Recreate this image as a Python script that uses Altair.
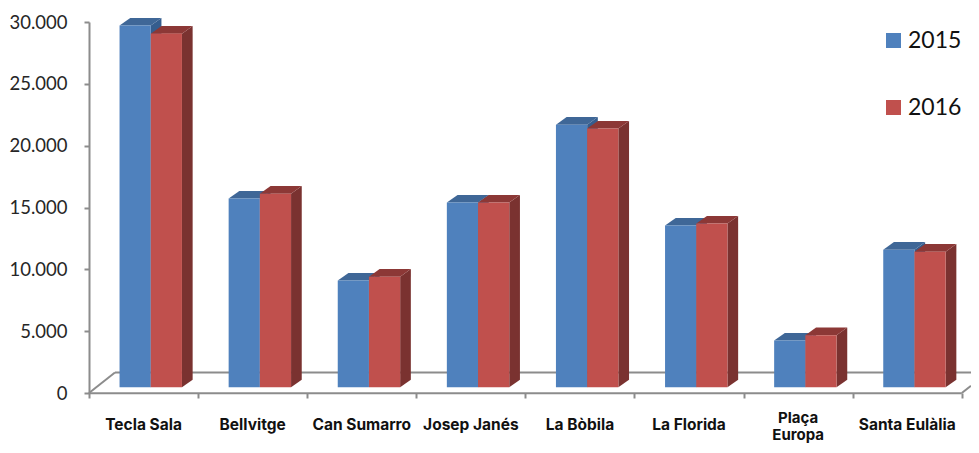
import altair as alt
import pandas as pd

categories = ["Tecla Sala", "Bellvitge", "Can Sumarro", "Josep Janés", "La Bòbila", "La Florida", "Plaça\nEuropa", "Santa Eulàlia"]
years = ["2015", "2016"]
v2015 = [29250, 15260, 8630, 14935, 21240, 13075, 3780, 11130]
v2016 = [28600, 15660, 8950, 14935, 20920, 13240, 4210, 10970]
series = {"2015": v2015, "2016": v2016}

front_col = {"2015": "#4F81BD", "2016": "#C0504D"}
top_col = {"2015": "#3F6797", "2016": "#8C3836"}
side_col = {"2015": "#355D8E", "2016": "#7A3230"}
GRAY = "#8C8C8C"

# pseudo-3D geometry, in data units (category units / value units)
BASE = 460
DY = 620
DX = 0.098
LEFT = 0.28
BW = 0.286
FLOOR_BACK = 1660
XMAX = 882 / 109.1

xs = alt.Scale(domain=[0, XMAX], nice=False, zero=False)
ys = alt.Scale(domain=[0, 30000], nice=False)

floor = pd.DataFrame([
    {"x": 0, "x2": 8, "y": -30, "y2": -30},
    {"x": 0, "x2": 0.238, "y": 0, "y2": FLOOR_BACK},
    {"x": 0.238, "x2": XMAX, "y": FLOOR_BACK, "y2": FLOOR_BACK},
    {"x": 8, "x2": XMAX, "y": 0, "y2": 590},
])

x_axis = alt.Axis(values=list(range(9)), labels=False, grid=False, domain=False, title=None,
                  ticks=True, tickSize=5, tickWidth=2, tickColor=GRAY)
y_axis = alt.Axis(values=list(range(0, 30001, 5000)), grid=False, title=None, domainColor=GRAY,
                  domainWidth=2, tickColor=GRAY, tickWidth=2, tickSize=5, labelPadding=17,
                  labelFont="Lato", labelFontSize=18.5, labelColor="#262626",
                  labelExpr="replace(format(datum.value, ','), ',', '.')")

layers = [
    alt.Chart(floor).mark_rule(color=GRAY, strokeWidth=2).encode(
        x=alt.X("x:Q", scale=xs, axis=x_axis), x2="x2:Q",
        y=alt.Y("y:Q", scale=ys, axis=y_axis), y2="y2:Q")
]

for yr in years:
    side, top, front = [], [], []
    for i, (c, v) in enumerate(zip(categories, series[yr])):
        off = 0 if yr == "2015" else BW
        l = i + LEFT + off
        r = l + BW
        t = v + BASE
        side += [{"id": i, "x": r, "y": BASE, "y2": t},
                 {"id": i, "x": r + DX, "y": BASE + DY, "y2": t + DY}]
        top += [{"id": i, "y": t, "x": l, "x2": r},
                {"id": i, "y": t + DY, "x": l + DX, "x2": r + DX}]
        front.append({"year": yr, "x": l, "x2": r, "y": BASE, "y2": t})
    layers.append(alt.Chart(pd.DataFrame(side)).mark_area(color=side_col[yr], interpolate="linear").encode(
        x=alt.X("x:Q", scale=xs), y=alt.Y("y:Q", scale=ys), y2="y2:Q", detail="id:N"))
    layers.append(alt.Chart(pd.DataFrame(top)).mark_area(color=top_col[yr], orient="horizontal", interpolate="linear").encode(
        y=alt.Y("y:Q", scale=ys), x=alt.X("x:Q", scale=xs), x2="x2:Q", detail="id:N"))
    layers.append(alt.Chart(pd.DataFrame(front)).mark_rect().encode(
        x=alt.X("x:Q", scale=xs), x2="x2:Q",
        y=alt.Y("y:Q", scale=ys), y2="y2:Q",
        color=alt.Color("year:N", scale=alt.Scale(domain=years, range=[front_col[k] for k in years]),
                        legend=alt.Legend(title=None, orient="none", legendX=793, legendY=7, padding=0,
                                          symbolType="square", symbolSize=225, symbolStrokeWidth=0,
                                          labelFont="Lato", labelFontSize=23, labelColor="#111111",
                                          labelOffset=3, rowPadding=43))))

labels = pd.DataFrame({"c": categories, "x": [i + 0.5 for i in range(len(categories))]})
labels["two"] = labels["c"].str.contains("\n")
text_props = dict(font="Inter", fontWeight="bold", color="#111111",
                  baseline="top", align="center", lineBreak="\n")
layers.append(alt.Chart(labels[~labels["two"]]).mark_text(fontSize=15.5, **text_props).encode(
    x=alt.X("x:Q", scale=xs), y=alt.value(396), text="c:N"))
layers.append(alt.Chart(labels[labels["two"]]).mark_text(fontSize=15, lineHeight=16.5, **text_props).encode(
    x=alt.X("x:Q", scale=xs), y=alt.value(389), text="c:N"))

chart = alt.layer(*layers).properties(
    width=882, height=371,
    autosize=alt.AutoSizeParams(type="none"),
    padding={"left": 81, "top": 14, "right": 0, "bottom": 52},
).configure_view(stroke=None)

chart.save("out.html", embed_options={"renderer": "svg", "actions": False})
